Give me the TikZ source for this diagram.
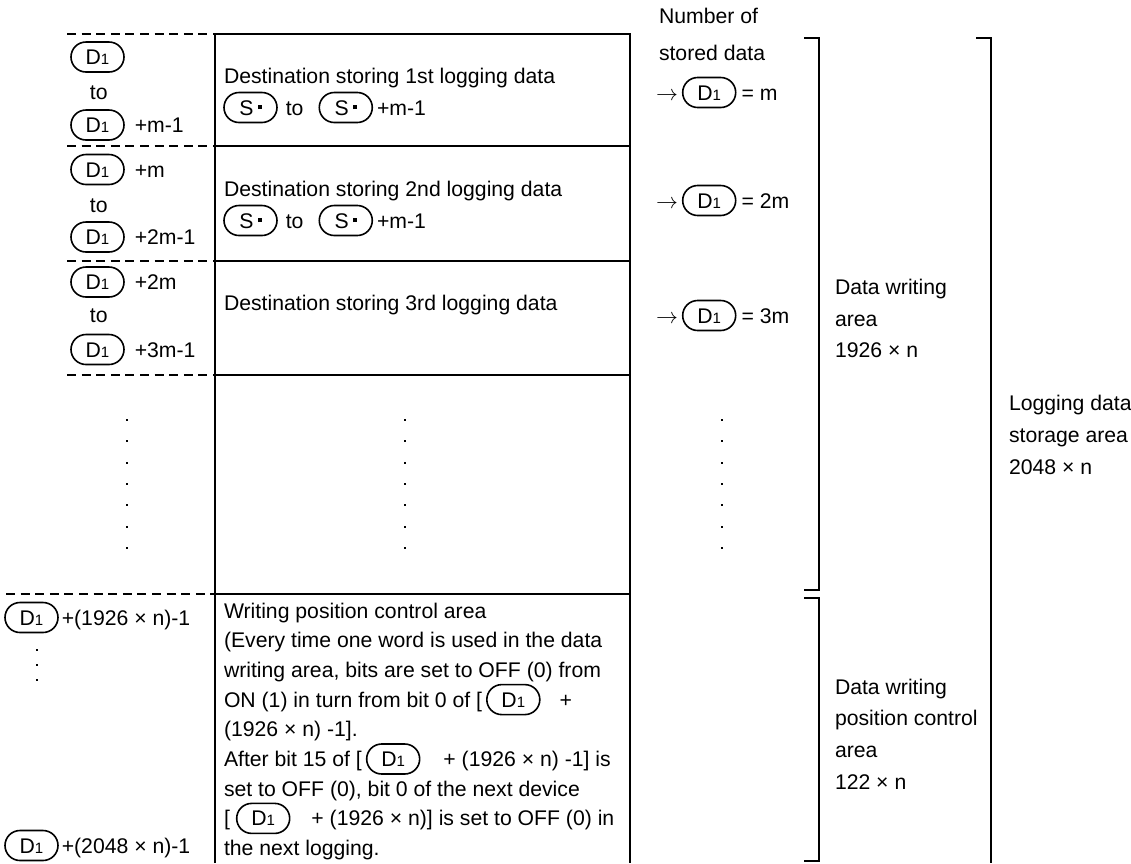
\documentclass[tikz,border=0pt]{standalone}
\usepackage{fontspec}
\setmainfont{Liberation Sans}
\usetikzlibrary{positioning}
\newcommand{\devD}{D{\fontsize{7.5}{7.5}\selectfont 1}\hspace{4pt}}
\newcommand{\devS}{S\hspace{2pt}\rule[3pt]{2pt}{2pt}\hspace{4pt}}
\begin{document}
\begin{tikzpicture}[x=0.5pt, y=-0.5pt,
  font=\fontsize{10.6}{14.85}\selectfont,
  line width=1pt,
  txt/.style={inner sep=0pt, anchor=west, text height=7.5pt, text depth=0pt},
  dev/.style={draw, line width=0.8pt, rounded corners=7.5pt, minimum width=26.5pt, inner xsep=0pt, inner ysep=3.75pt, text height=7.5pt, text depth=0pt},
  sep/.style={dash pattern=on 4.5pt off 2.8pt}]
  \useasboundingbox (0,0) rectangle (1131,863);
  % table frame
  \draw (215,863) -- (215,34) -- (630,34) -- (630,863);
  \foreach \y in {146,260.5,375,594} \draw (215,\y) -- (630,\y);
  \foreach \y in {34,146,260.5,375} \draw[sep] (67,\y) -- (215,\y);
  \draw[sep] (6,594) -- (215,594);
  % brackets
  \draw (804,38) -- (819,38) -- (819,590) -- (804,590);
  \draw (804,598) -- (819,598) -- (819,861) -- (804,861);
  \draw (976,38) -- (991,38) -- (991,863);
  % device numbers
  \node[dev] (a1) at (97.5,57) {\devD};
  \node[txt] (a1t) at (89,91.5) {to};
  \node[dev] (a2) at (97.5,125) {\devD};
  \node[txt, right=4.5pt of a2] (a2t) {+m-1};
  \node[dev] (a3) at (97.5,169.5) {\devD};
  \node[txt, right=4.5pt of a3] (a3t) {+m};
  \node[txt] (a4t) at (89,204.5) {to};
  \node[dev] (a4) at (97.5,237) {\devD};
  \node[txt, right=4.5pt of a4] (a4s) {+2m-1};
  \node[dev] (a5) at (97.5,282) {\devD};
  \node[txt, right=4.5pt of a5] (a5t) {+2m};
  \node[txt] (a6t) at (89,314.5) {to};
  \node[dev] (a6) at (97.5,349.5) {\devD};
  \node[txt, right=4.5pt of a6] (a6s) {+3m-1};
  % logging data
  \node[txt] (b1) at (223,76) {Destination storing 1st logging data};
  \node[dev] (s1) at (250.5,107.5) {\devS};
  \node[txt, right=3.5pt of s1] (s1t) {to};
  \node[dev, right=7pt of s1t] (s2) {\devS};
  \node[txt, right=1.5pt of s2] (s2t) {+m-1};
  \node[txt] (b2) at (223,189) {Destination storing 2nd logging data};
  \node[dev] (s3) at (250.5,220.5) {\devS};
  \node[txt, right=3.5pt of s3] (s3t) {to};
  \node[dev, right=7pt of s3t] (s4) {\devS};
  \node[txt, right=1.5pt of s4] (s4t) {+m-1};
  \node[txt] (b3) at (223,302.5) {Destination storing 3rd logging data};
  % number of stored data
  \node[txt] (n1) at (658,15.5) {Number of};
  \node[txt] (n2) at (658,52.5) {stored data};
  \node[txt] (r1) at (655,92.5) {$\rightarrow$};
  \node[dev, right=1.5pt of r1] (r1d) {\devD};
  \node[txt, right=2pt of r1d] (r1t) {= m};
  \node[txt] (r2) at (655,200.5) {$\rightarrow$};
  \node[dev, right=1.5pt of r2] (r2d) {\devD};
  \node[txt, right=2pt of r2d] (r2t) {= 2m};
  \node[txt] (r3) at (655,315.5) {$\rightarrow$};
  \node[dev, right=1.5pt of r3] (r3d) {\devD};
  \node[txt, right=2pt of r3d] (r3t) {= 3m};
  % omitted rows
  \foreach \x in {127,405,722}
    \foreach \k in {0,...,6}
      \fill ({\x-1},{419+21.33*\k}) rectangle ++(2,2);
  \foreach \k in {0,1,2}
    \fill (36,{649+15*\k}) rectangle ++(2,2);
  % writing position control area
  \node[dev] (c1) at (31.5,617.5) {\devD};
  \node[txt, right=1pt of c1] (c1t) {+(1926 × n)-1};
  \node[dev] (c2) at (31.5,845.5) {\devD};
  \node[txt, right=1pt of c2] (c2t) {+(2048 × n)-1};
  \node[txt] (w1) at (223,610.5) {Writing position control area};
  \node[txt] (w2) at (223,640.2) {(Every time one word is used in the data};
  \node[txt] (w3) at (223,669.9) {writing area, bits are set to OFF (0) from};
  \node[txt] (w4) at (223,699.6) {ON (1) in turn from bit 0 of [};
  \node[dev, right=1.5pt of w4] (w4d) {\devD};
  \node[txt, right=9pt of w4d] (w4t) {+};
  \node[txt] (w5) at (223,729.3) {(1926 × n) -1].};
  \node[txt] (w6) at (223,759) {After bit 15 of [};
  \node[dev, right=1.5pt of w6] (w6d) {\devD};
  \node[txt, right=11pt of w6d] (w6t) {+ (1926 × n) -1] is};
  \node[txt] (w7) at (223,788.7) {set to OFF (0), bit 0 of the next device};
  \node[txt] (w8) at (223,818.4) {[};
  \node[dev, right=2.5pt of w8] (w8d) {\devD};
  \node[txt, right=10pt of w8d] (w8t) {+ (1926 × n)] is set to OFF (0) in};
  \node[txt] (w9) at (223,848.1) {the next logging.};
  % area labels
  \node[txt] (l1) at (834,287) {Data writing};
  \node[txt] (l2) at (834,318.5) {area};
  \node[txt] (l3) at (834,350) {1926 × n};
  \node[txt] (g1) at (1008,403) {Logging data};
  \node[txt] (g2) at (1008,435) {storage area};
  \node[txt] (g3) at (1008,467) {2048 × n};
  \node[txt] (p1) at (834,687) {Data writing};
  \node[txt] (p2) at (834,718) {position control};
  \node[txt] (p3) at (834,750) {area};
  \node[txt] (p4) at (834,782) {122 × n};
\end{tikzpicture}
\end{document}
